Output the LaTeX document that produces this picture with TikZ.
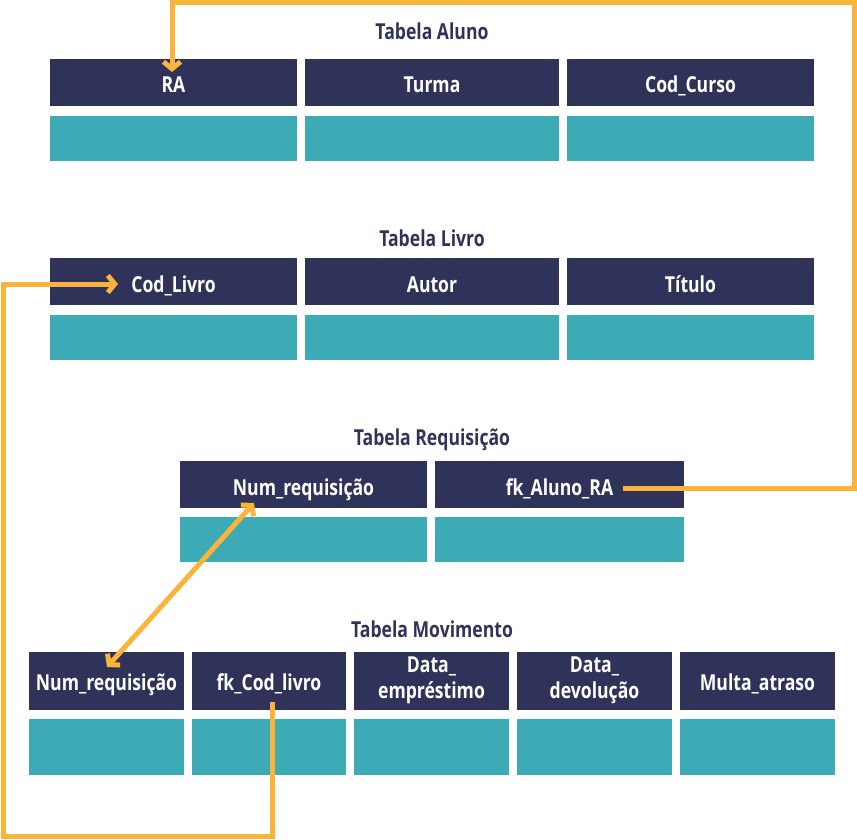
\documentclass[tikz,border=0pt]{standalone}
\usepackage{fontspec}
\setmainfont{Open Sans}[FakeStretch=0.8]
\usetikzlibrary{arrows.meta}
\definecolor{navy}{HTML}{2F3359}
\definecolor{tealc}{HTML}{3DABB5}
\definecolor{orng}{HTML}{FBB33A}
\begin{document}
\begin{tikzpicture}[x=1pt,y=-1pt,
  hdr/.style={fill=navy, text=white, font=\bfseries\fontsize{22}{26}\selectfont, inner sep=0pt, align=center, text height=21pt, text depth=0pt},
  hdrm/.style={hdr, text height=18pt, text depth=0pt},
  hdrtwo/.style={hdr, text height=34pt, text depth=0pt},
  dat/.style={fill=tealc, inner sep=0pt},
  ttl/.style={text=navy, font=\bfseries\fontsize{22}{26}\selectfont, inner sep=0pt, anchor=base},
  conn/.style={draw=orng, line width=5pt},
  barb/.tip={Straight Barb[length=7pt,width=17pt,line width=5pt]}
]
\useasboundingbox (0,0) rectangle (857,840);
% Tabela Aluno
\node[ttl] (tA) at (432,40) {Tabela Aluno};
\node[hdr, minimum width=247pt, minimum height=47pt] (ra) at (173.5,82.5) {RA};
\node[hdr, minimum width=254pt, minimum height=47pt] (turma) at (432,82.5) {Turma};
\node[hdr, minimum width=247pt, minimum height=47pt] (curso) at (690.5,82.5) {Cod\_Curso};
\node[dat, minimum width=247pt, minimum height=45pt] (raD) at (173.5,138.5) {};
\node[dat, minimum width=254pt, minimum height=45pt] (turmaD) at (432,138.5) {};
\node[dat, minimum width=247pt, minimum height=45pt] (cursoD) at (690.5,138.5) {};
% Tabela Livro
\node[ttl] (tL) at (432,246) {Tabela Livro};
\node[hdr, minimum width=247pt, minimum height=47pt] (codl) at (173.5,281.5) {Cod\_Livro};
\node[hdr, minimum width=254pt, minimum height=47pt] (autor) at (432,281.5) {Autor};
\node[hdr, minimum width=247pt, minimum height=47pt] (titulo) at (690.5,281.5) {Título};
\node[dat, minimum width=247pt, minimum height=45pt] (codlD) at (173.5,337.5) {};
\node[dat, minimum width=254pt, minimum height=45pt] (autorD) at (432,337.5) {};
\node[dat, minimum width=247pt, minimum height=45pt] (tituloD) at (690.5,337.5) {};
% Tabela Requisicao
\node[ttl] (tR) at (432,445) {Tabela Requisição};
\node[hdr, minimum width=247pt, minimum height=47pt] (numr) at (303.5,484.5) {Num\_requisição};
\node[hdr, minimum width=249pt, minimum height=47pt] (fkra) at (559.5,484.5) {fk\_Aluno\_RA};
\node[dat, minimum width=247pt, minimum height=45pt] (numrD) at (303.5,539.5) {};
\node[dat, minimum width=249pt, minimum height=45pt] (fkraD) at (559.5,539.5) {};
% Tabela Movimento
\node[ttl] (tM) at (432,637) {Tabela Movimento};
\node[hdrm, minimum width=155pt, minimum height=58pt] (mnum) at (106.5,681) {Num\_requisição};
\node[hdrm, minimum width=154pt, minimum height=58pt] (mfk) at (269,681) {fk\_Cod\_livro};
\node[hdrtwo, minimum width=155pt, minimum height=58pt] (memp) at (431.5,681) {Data\_\\empréstimo};
\node[hdrtwo, minimum width=155pt, minimum height=58pt] (mdev) at (594.5,681) {Data\_\\devolução};
\node[hdrm, minimum width=155pt, minimum height=58pt] (mmul) at (757.5,681) {Multa\_atraso};
\node[dat, minimum width=155pt, minimum height=56pt] (mnumD) at (106.5,747) {};
\node[dat, minimum width=154pt, minimum height=56pt] (mfkD) at (269,747) {};
\node[dat, minimum width=155pt, minimum height=56pt] (mempD) at (431.5,747) {};
\node[dat, minimum width=155pt, minimum height=56pt] (mdevD) at (594.5,747) {};
\node[dat, minimum width=155pt, minimum height=56pt] (mmulD) at (757.5,747) {};
% connector end points
\coordinate (fkraOut) at (623,488);
\coordinate (raIn) at (172,72);
\coordinate (mfkOut) at (272,702);
\coordinate (codlIn) at (118,284);
\coordinate (numrEnd) at (254,503);
\coordinate (mnumEnd) at (107,667);
% connectors
\draw[conn, -barb, miter limit=10] (fkraOut) -- (854,488) -- (854,3) -- (raIn |- 0,3) -- (raIn);
\draw[conn, -barb] (mfkOut) -- (mfkOut |- 0,836) -- (3,836) -- (3,284) -- (codlIn);
\draw[conn, barb-barb] (mnumEnd) -- (numrEnd);
\end{tikzpicture}
\end{document}
